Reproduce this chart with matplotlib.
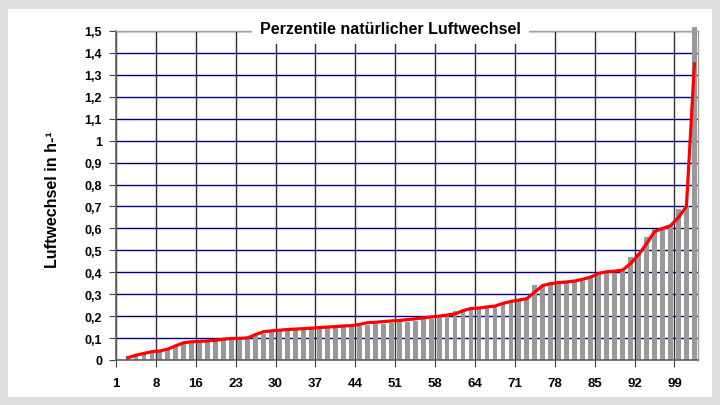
import numpy as np
import matplotlib.pyplot as plt
from matplotlib.patches import Rectangle

plt.rcParams['font.family'] = ['Liberation Sans', 'DejaVu Sans']

# percentile bars (gray) and red curve, one value per bar
bar_values = [0.02, 0.025, 0.03, 0.035, 0.04, 0.045, 0.06, 0.075, 0.08, 0.08,
              0.085, 0.088, 0.09, 0.095, 0.097, 0.1, 0.11, 0.12, 0.127, 0.13,
              0.135, 0.137, 0.14, 0.142, 0.143, 0.145, 0.148, 0.15, 0.153, 0.155,
              0.16, 0.162, 0.165, 0.17, 0.172, 0.175, 0.18, 0.185, 0.188, 0.19,
              0.2, 0.225, 0.228, 0.232, 0.235, 0.238, 0.245, 0.258, 0.268, 0.276,
              0.276, 0.34, 0.34, 0.345, 0.35, 0.352, 0.355, 0.36, 0.379, 0.39,
              0.397, 0.397, 0.405, 0.47, 0.49, 0.56, 0.597, 0.6, 0.61, 0.69,
              0.7, 1.52]
line_values = [0.01, 0.022, 0.03, 0.038, 0.041, 0.05, 0.065, 0.079, 0.083, 0.085,
               0.087, 0.09, 0.095, 0.098, 0.099, 0.101, 0.116, 0.129, 0.133, 0.136,
               0.139, 0.141, 0.143, 0.145, 0.148, 0.15, 0.152, 0.155, 0.157, 0.162,
               0.17, 0.172, 0.175, 0.178, 0.18, 0.184, 0.188, 0.192, 0.196, 0.2,
               0.205, 0.21, 0.225, 0.235, 0.237, 0.242, 0.246, 0.258, 0.267, 0.273,
               0.28, 0.31, 0.34, 0.348, 0.353, 0.356, 0.36, 0.368, 0.378, 0.395,
               0.402, 0.405, 0.41, 0.44, 0.48, 0.53, 0.585, 0.6, 0.612, 0.65,
               0.7, 1.35]
x_labels = ['1', '8', '16', '23', '30', '37', '44', '51', '58', '64', '71',
            '78', '85', '92', '99']
y_ticks = np.round(np.arange(0, 1.51, 0.1), 1)

fig = plt.figure(figsize=(7.2, 4.06), dpi=100, facecolor='#dedede')
fig.add_artist(Rectangle((8 / 720, 1 - 398 / 406), 704 / 720, 388 / 406,
                         transform=fig.transFigure, facecolor='white',
                         edgecolor='none', zorder=0))
ax = fig.add_axes([116 / 720, 1 - 361 / 406, 582 / 720, 329 / 406])

x = np.arange(len(bar_values))
ax.bar(x, bar_values, width=0.6, color='#999999', zorder=2, clip_on=False)
ax.plot(x, line_values, color='#ff0000', linewidth=2.3, zorder=3,
        solid_joinstyle='round')

ax.set_xlim(-1.5, 71.45)
ax.set_ylim(0, 1.5)
xt = -1.5 + 5 * np.arange(len(x_labels))
ax.set_xticks(xt)
ax.set_xticklabels(x_labels, fontsize=9.5, fontweight='bold')
ax.set_yticks(y_ticks)
ax.set_yticklabels([('%g' % v).replace('.', ',') for v in y_ticks],
                   fontsize=9, fontweight='bold')
ax.tick_params(axis='x', length=5, pad=7, color='#404040')
ax.tick_params(axis='y', length=5, pad=5, color='#404040')

ax.set_axisbelow(True)
ax.xaxis.grid(True, color='#303030', linewidth=1.0)
ax.yaxis.grid(True, color='#000080', linewidth=1.0)
for s in ['left', 'bottom']:
    ax.spines[s].set_color('#606060')
    ax.spines[s].set_linewidth(1.2)
for s in ['top', 'right']:
    ax.spines[s].set_color('#a0a0a0')
    ax.spines[s].set_linewidth(1.0)

ax.set_ylabel('Luftwechsel in h-¹', fontsize=11.5, fontweight='bold')
ax.yaxis.set_label_coords(-0.097, 0.49)

ax.text(0.471, 1.009, 'Perzentile natürlicher Luftwechsel', transform=ax.transAxes,
        ha='center', va='center', fontsize=11.5, fontweight='bold', zorder=5,
        bbox=dict(boxstyle='square,pad=0.5', facecolor='white', edgecolor='none'))

fig.savefig('out.png', dpi=100, facecolor=fig.get_facecolor())
